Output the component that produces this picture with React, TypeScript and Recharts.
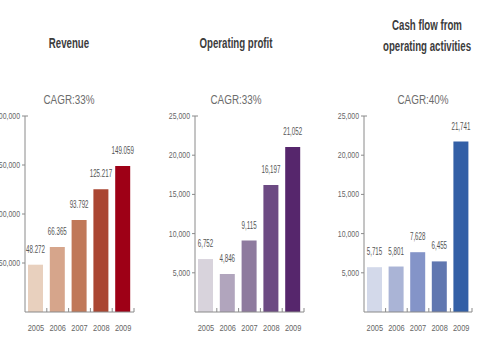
import React from 'react';
import { BarChart, Bar, XAxis, YAxis, Cell, LabelList } from 'recharts';

const years = ['2005', '2006', '2007', '2008', '2009'];

const revenue = [48272, 66365, 93792, 125217, 149059];
const operatingProfit = [6752, 4846, 9115, 16197, 21052];
const cashFlow = [5715, 5801, 7628, 6455, 21741];

const revenueTicks = [50000, 100000, 150000, 200000];
const smallTicks = [5000, 10000, 15000, 20000, 25000];

const revenueColors = ['#e8d0be', '#d6a58b', '#c07859', '#aa4632', '#9e0016'];
const profitColors = ['#d8d3dc', '#b1a5bd', '#8e7a9e', '#6c4a83', '#56266c'];
const cashColors = ['#d3d9ea', '#aab4d6', '#8494c8', '#6077b0', '#335fa6'];

// no condensed face is installed, so Liberation Sans is squeezed horizontally
const FONT = "'Liberation Sans', Arial, sans-serif";
const AXIS = '#8a8a8a';
const TICK_GAP = 11;
const Y_TICK = 3;
const Y_MARGIN = 2;

const comma = (v: number) => v.toLocaleString('en-US');
const dotted = (v: number) => v.toLocaleString('en-US').replace(/,/g, '.');

function Squeezed({ x, y, scale, anchor, size, fill, children, dy = 0 }: any) {
  return (
    <g transform={`translate(${x},${y}) scale(${scale},1)`}>
      <text x={0} y={0} dy={dy} textAnchor={anchor} fontSize={size} fontFamily={FONT} fill={fill}>
        {children}
      </text>
    </g>
  );
}

// year label plus a small mark on the band edge, like the original
function BandTick(props: any) {
  const { x, y, payload } = props;
  const edge = x + (payload.offset ?? 0);
  const axisY = y - TICK_GAP;
  return (
    <g>
      <line x1={edge} x2={edge} y1={axisY - 4} y2={axisY} stroke={AXIS} />
      <Squeezed x={x} y={y} dy={8} scale={0.78} anchor="middle" size={9.5} fill="#666">
        {payload.value}
      </Squeezed>
    </g>
  );
}

function ValueTick(props: any) {
  const { x, y, payload, top } = props;
  const axisX = x + Y_TICK + Y_MARGIN;
  return (
    <g>
      {payload.value === top && (
        <line x1={axisX} x2={axisX + 3} y1={y} y2={y} stroke={AXIS} />
      )}
      <Squeezed x={x} y={y} dy={3} scale={0.77} anchor="end" size={9} fill="#666">
        {comma(payload.value)}
      </Squeezed>
    </g>
  );
}

interface PanelProps {
  left: number;
  width: number;
  values: number[];
  colors: string[];
  ticks: number[];
  max: number;
  format: (v: number) => string;
}

function Panel({ left, width, values, colors, ticks, max, format }: PanelProps) {
  const data = years.map((year, i) => ({ year, value: values[i] }));
  const renderLabel = (p: any) => (
    <Squeezed x={p.x + p.width / 2} y={p.y - 12} scale={0.62} anchor="middle" size={10} fill="#555">
      {format(Number(p.value))}
    </Squeezed>
  );
  return (
    <div style={{ position: 'absolute', left, top: 0 }}>
      <BarChart
        width={width}
        height={360}
        data={data}
        margin={{ top: 116, right: 4, bottom: 18, left: 0 }}
      >
        <XAxis
          dataKey="year"
          height={30}
          stroke={AXIS}
          tickLine={false}
          tickSize={0}
          tickMargin={TICK_GAP}
          tick={<BandTick />}
          interval={0}
        />
        <YAxis
          width={45}
          domain={[0, max]}
          ticks={ticks}
          stroke={AXIS}
          tickSize={Y_TICK}
          tickMargin={Y_MARGIN}
          tick={<ValueTick top={max} />}
        />
        <Bar dataKey="value" barSize={15} isAnimationActive={false}>
          {data.map((d, i) => (
            <Cell key={d.year} fill={colors[i]} />
          ))}
          <LabelList dataKey="value" content={renderLabel} />
        </Bar>
      </BarChart>
    </div>
  );
}

const titleStyle: React.CSSProperties = {
  position: 'absolute',
  transform: 'translate(-50%, -50%) scaleX(0.69)',
  whiteSpace: 'nowrap',
  fontFamily: FONT,
  fontWeight: 'bold',
  fontSize: 14,
  color: '#3c3c3c',
  lineHeight: '21px',
  textAlign: 'center',
};

const cagrStyle: React.CSSProperties = {
  position: 'absolute',
  transform: 'translate(-50%, -50%) scaleX(0.79)',
  whiteSpace: 'nowrap',
  fontFamily: FONT,
  fontSize: 12.5,
  color: '#6c6c6c',
};

export default function App() {
  return (
    <div
      style={{
        position: 'absolute',
        left: 0,
        top: 0,
        width: 480,
        height: 360,
        overflow: 'hidden',
        background: '#fff',
      }}
    >
      <Panel left={-20} width={158} values={revenue} colors={revenueColors} ticks={revenueTicks} max={200000} format={dotted} />
      <Panel left={150} width={158} values={operatingProfit} colors={profitColors} ticks={smallTicks} max={25000} format={comma} />
      <Panel left={319} width={157} values={cashFlow} colors={cashColors} ticks={smallTicks} max={25000} format={comma} />

      <div style={{ ...titleStyle, left: 69, top: 43 }}>Revenue</div>
      <div style={{ ...titleStyle, left: 236, top: 43 }}>Operating profit</div>
      <div style={{ ...titleStyle, left: 427, top: 36 }}>
        Cash flow from
        <br />
        operating activities
      </div>

      <div style={{ ...cagrStyle, left: 69, top: 100 }}>CAGR:33%</div>
      <div style={{ ...cagrStyle, left: 236, top: 100 }}>CAGR:33%</div>
      <div style={{ ...cagrStyle, left: 423, top: 100 }}>CAGR:40%</div>
    </div>
  );
}
